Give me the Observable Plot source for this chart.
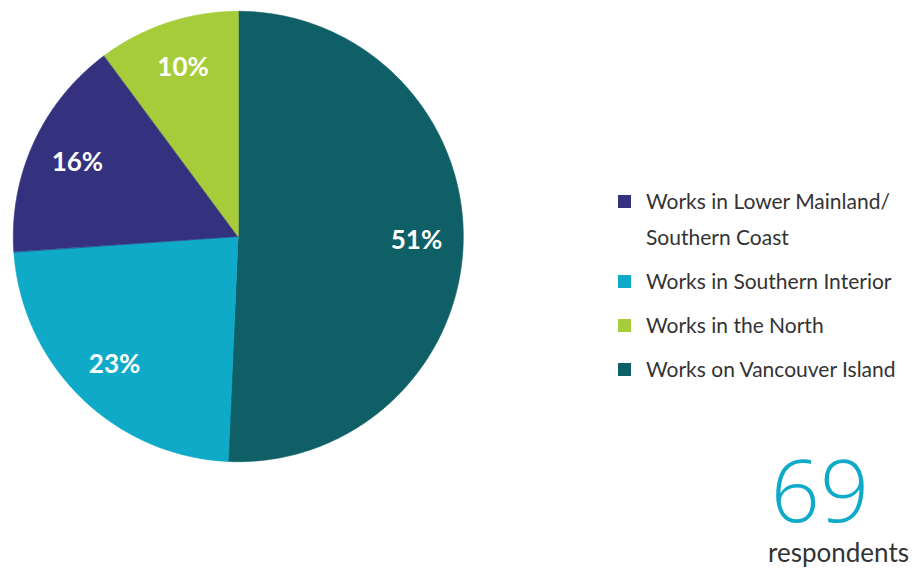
<!DOCTYPE html>
<html>
<head>
<meta charset="utf-8">
<script src="https://cdn.jsdelivr.net/npm/d3@7"></script>
<script src="https://cdn.jsdelivr.net/npm/@observablehq/plot@0.6"></script>
<style>
  html, body { margin: 0; padding: 0; background: #fff; }
  #wrap { position: relative; width: 921px; height: 573px; font-family: Lato, "Open Sans", sans-serif; color: #333; }
  #chart { position: absolute; left: 0; top: 0; }
  #legend { position: absolute; left: 618px; top: 183px; }
  .item { display: flex; align-items: flex-start; margin-bottom: 8px; }
  .sw { width: 13px; height: 13px; flex: none; margin-top: 12px; margin-right: 15px; }
  .lab { font-size: 21px; line-height: 36px; width: 270px; }
  #num { position: absolute; right: 52px; top: 449px; font-family: "Open Sans", sans-serif; font-size: 86px; font-weight: 300; color: #0eaac8; line-height: 80px; }
  #resp { position: absolute; right: 12px; top: 537px; font-size: 26px; line-height: 30px; color: #333; }
</style>
</head>
<body>
<div id="wrap">
  <div id="chart"></div>
  <div id="legend"></div>
  <div id="num"></div>
  <div id="resp"></div>
</div>
<script>
// Data (pie order, clockwise from 12 o'clock)
const regions = ["Works on Vancouver Island", "Works in Southern Interior", "Works in Lower Mainland/ Southern Coast", "Works in the North"];
const counts = [35, 16, 11, 7];
const percentLabels = ["51%", "23%", "16%", "10%"];
const colors = ["#0f6066", "#0eaac8", "#34327f", "#a6cd39"];
const legendOrder = ["Works in Lower Mainland/ Southern Coast", "Works in Southern Interior", "Works in the North", "Works on Vancouver Island"];
const legendText = ["Works in Lower Mainland/<br>Southern Coast", "Works in Southern Interior", "Works in the North", "Works on Vancouver Island"];
const respondents = 69;
const respondentsLabel = "respondents";

const pie = d3.pie().sort(null)(counts);
const slices = pie.map((p, i) => ({region: regions[i], label: percentLabels[i], start: p.startAngle, end: p.endAngle, mid: (p.startAngle + p.endAngle) / 2}));

// Arc outline points (geometry of each wedge)
const arcPts = [];
for (const s of slices) {
  const n = Math.max(2, Math.ceil((s.end - s.start) / 0.01));
  for (let k = 0; k <= n; k++) {
    const a = s.start + (s.end - s.start) * k / n;
    arcPts.push({region: s.region, x: Math.sin(a), y: Math.cos(a)});
  }
}
const labelR = 0.79;

const chart = Plot.plot({
  width: 480,
  height: 480,
  margin: 0,
  x: {domain: [-1, 1], range: [13.3, 463.3], axis: null},
  y: {domain: [-1, 1], range: [461.7, 11.3], axis: null},
  color: {domain: regions, range: colors},
  style: {fontFamily: "Lato, 'Open Sans', sans-serif", background: "transparent"},
  marks: [
    Plot.area(arcPts, {x1: d => 0, y1: d => 0, x2: "x", y2: "y", z: "region", fill: "region", stroke: "region", strokeWidth: 0.6}),
    Plot.text(slices, {
      x: d => labelR * Math.sin(d.mid),
      y: d => labelR * Math.cos(d.mid),
      text: "label",
      fill: "white",
      fontSize: 26,
      fontWeight: 700
    })
  ]
});
document.getElementById("chart").appendChild(chart);

// Legend
const legend = document.getElementById("legend");
legendOrder.forEach((r, i) => {
  const item = document.createElement("div");
  item.className = "item";
  const sw = document.createElement("div");
  sw.className = "sw";
  sw.style.background = colors[regions.indexOf(r)];
  const lab = document.createElement("div");
  lab.className = "lab";
  lab.innerHTML = legendText[i];
  item.appendChild(sw);
  item.appendChild(lab);
  legend.appendChild(item);
});
document.getElementById("num").textContent = respondents;
document.getElementById("resp").textContent = respondentsLabel;
</script>
</body>
</html>
